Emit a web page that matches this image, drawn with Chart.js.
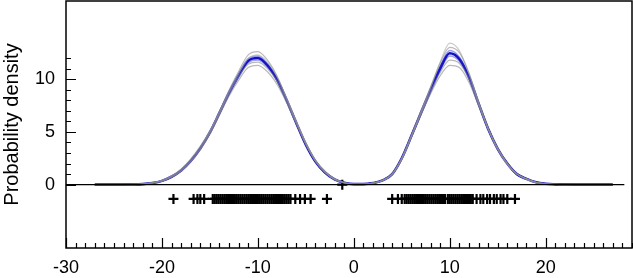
<!DOCTYPE html>
<html>
<head>
<meta charset="utf-8">
<script src="https://cdn.jsdelivr.net/npm/chart.js@4"></script>
<style>
  html, body { margin: 0; padding: 0; background: #fff; }
  #wrap { width: 633px; height: 278px; }
</style>
</head>
<body>
<div id="wrap"><canvas id="grafico"></canvas></div>
<script>
// Rejilla de x para las curvas de densidad
const xs = [-27, -26, -25, -24, -23, -22, -21, -20, -19, -18,
    -17, -16, -15, -14, -13, -12, -11, -10, -9, -8,
    -7, -6, -5, -4, -3, -2, -1, 0, 1, 2,
    3, 4, 5, 6, 7, 8, 9, 10, 11, 12,
    13, 14, 15, 16, 17, 18, 19, 20, 21, 22,
    23, 24, 25, 26, 27];

// Curva media (azul)
const densidadMedia = [0, 0, 0, 0, 0.01, 0.05, 0.15, 0.36, 0.75, 1.35,
    2.25, 3.45, 4.95, 6.8, 8.7, 10.35, 11.75, 12.0, 11.3, 9.95,
    8.0, 5.85, 3.8, 2.2, 1.15, 0.5, 0.18, 0.05, 0.05, 0.15,
    0.4, 1.0, 2.5, 4.6, 6.8, 8.95, 11.0, 12.45, 11.9, 10.2,
    7.7, 5.3, 3.4, 2.0, 1.0, 0.55, 0.22, 0.08, 0.03, 0.01,
    0, 0, 0, 0, 0];

// Remuestreos (gris)
const gris1 = [0, 0, 0, 0, 0.01, 0.06, 0.17, 0.4, 0.8, 1.42,
    2.35, 3.55, 5.05, 6.95, 8.95, 10.75, 12.3, 12.6, 11.8, 10.3,
    8.15, 5.95, 3.85, 2.25, 1.2, 0.5, 0.18, 0.05, 0.05, 0.15,
    0.4, 1.0, 2.5, 4.7, 7.0, 9.25, 11.5, 13.0, 12.5, 10.6,
    7.9, 5.4, 3.45, 2.0, 1.0, 0.55, 0.22, 0.08, 0.03, 0.01,
    0, 0, 0, 0, 0];
const gris2 = [0, 0, 0, 0, 0.01, 0.05, 0.14, 0.33, 0.7, 1.28,
    2.15, 3.3, 4.8, 6.6, 8.4, 9.9, 11.1, 11.3, 10.7, 9.5,
    7.75, 5.75, 3.8, 2.2, 1.15, 0.5, 0.18, 0.05, 0.05, 0.15,
    0.4, 1.0, 2.45, 4.5, 6.6, 8.6, 10.3, 11.3, 11.1, 9.7,
    7.5, 5.25, 3.4, 2.0, 1.0, 0.55, 0.22, 0.08, 0.03, 0.01,
    0, 0, 0, 0, 0];
const gris3 = [0, 0, 0, 0, 0.02, 0.07, 0.19, 0.42, 0.85, 1.5,
    2.45, 3.65, 5.1, 6.9, 8.8, 10.5, 11.95, 12.3, 11.6, 10.2,
    8.2, 6.05, 4.0, 2.35, 1.25, 0.55, 0.2, 0.06, 0.05, 0.14,
    0.38, 0.95, 2.4, 4.5, 6.85, 9.15, 11.6, 13.4, 12.7, 10.5,
    7.8, 5.3, 3.3, 1.9, 1.0, 0.5, 0.2, 0.08, 0.03, 0.01,
    0, 0, 0, 0, 0];
const gris4 = [0, 0, 0, 0, 0.01, 0.05, 0.14, 0.34, 0.72, 1.3,
    2.2, 3.4, 4.9, 6.7, 8.6, 10.2, 11.4, 11.6, 11.0, 9.8,
    7.95, 5.9, 3.9, 2.25, 1.2, 0.5, 0.18, 0.05, 0.05, 0.15,
    0.42, 1.05, 2.55, 4.65, 6.75, 8.8, 10.6, 11.8, 11.5, 10.0,
    7.65, 5.3, 3.45, 2.05, 1.05, 0.55, 0.22, 0.08, 0.03, 0.01,
    0, 0, 0, 0, 0];

// Remuestreos (azul claro)
const azul1 = [0, 0, 0, 0, 0.01, 0.05, 0.15, 0.37, 0.77, 1.38,
    2.3, 3.5, 5.0, 6.85, 8.8, 10.5, 11.95, 12.2, 11.45, 10.05,
    8.05, 5.9, 3.85, 2.2, 1.15, 0.5, 0.18, 0.05, 0.05, 0.15,
    0.4, 1.0, 2.5, 4.65, 6.9, 9.1, 11.2, 12.7, 12.1, 10.3,
    7.75, 5.3, 3.4, 2.0, 1.0, 0.55, 0.22, 0.08, 0.03, 0.01,
    0, 0, 0, 0, 0];
const azul2 = [0, 0, 0, 0, 0.01, 0.05, 0.15, 0.35, 0.73, 1.32,
    2.2, 3.4, 4.9, 6.75, 8.6, 10.2, 11.55, 11.8, 11.15, 9.85,
    7.95, 5.8, 3.8, 2.2, 1.15, 0.5, 0.18, 0.05, 0.05, 0.15,
    0.4, 1.0, 2.5, 4.55, 6.7, 8.8, 10.8, 12.2, 11.7, 10.1,
    7.65, 5.3, 3.4, 2.0, 1.0, 0.55, 0.22, 0.08, 0.03, 0.01,
    0, 0, 0, 0, 0];

// Observaciones (marcas +)
const observaciones = [-18.8, -16.7, -16.3, -16.0, -15.6,
    -14.7, -14.5, -14.3, -14.1, -13.9, -13.7, -13.5, -13.3, -13.1, -12.9,
    -12.8, -12.6, -12.4, -12.2, -12.0, -11.8, -11.6, -11.4, -11.2, -11.0,
    -10.8, -10.6, -10.4, -10.2, -10.0, -9.8, -9.6, -9.4, -9.2, -9.0,
    -8.8, -8.6, -8.4, -8.2, -8.0, -7.8, -7.6, -7.4, -7.2, -7.0,
    -6.8, -6.6, -6.1, -5.6, -5.1, -4.5, -2.8,
    4.0, 4.6, 5.0, 5.3, 5.5, 5.7, 5.9, 6.1, 6.3, 6.5,
    6.7, 6.9, 7.1, 7.3, 7.5, 7.7, 7.9, 8.1, 8.3, 8.5,
    8.7, 8.9, 9.1, 9.3, 9.5, 9.8, 10.0, 10.2, 10.4, 10.6,
    10.8, 11.0, 11.2, 11.4, 11.6, 11.8, 12.0, 12.2, 12.4, 12.8,
    13.2, 13.5, 13.9, 14.2, 14.6, 14.9, 15.3, 15.6, 16.0, 16.8];
const nivelObservaciones = -1.35;
const marcaSobreCero = [-1.2];

const lineaCero = [-30, 28.2];

const ticksX = [-30, -20, -10, 0, 10, 20];
const ticksY = [0, 5, 10];

const curva = (valores, color, ancho) => ({
    type: "line",
    data: xs.map((x, i) => ({ x: x, y: valores[i] })),
    borderColor: color,
    borderWidth: ancho,
    pointRadius: 0,
    fill: false,
    cubicInterpolationMode: "monotone"
});

// Marco completo y marcas hacia dentro
const marcoYMarcas = {
    id: "marcoYMarcas",
    afterDraw(chart) {
        const { ctx, chartArea: a, scales } = chart;
        const ejeX = scales.x;
        const ejeY = scales.y;

        ctx.save();
        ctx.strokeStyle = "#000";
        ctx.lineWidth = 1.5;
        ctx.strokeRect(a.left, a.top, a.right - a.left, a.bottom - a.top);

        ctx.lineWidth = 1.2;
        ctx.beginPath();
        for (let v = -30; v <= 29; v++) {
            const px = Math.round(ejeX.getPixelForValue(v)) + 0.5;
            const largo = v % 10 === 0 ? 10 : 5;
            ctx.moveTo(px, a.bottom);
            ctx.lineTo(px, a.bottom - largo);
        }
        for (let v = 0; v <= 12; v++) {
            const py = Math.round(ejeY.getPixelForValue(v)) + 0.5;
            const largo = v % 5 === 0 ? 10 : 5;
            ctx.moveTo(a.left, py);
            ctx.lineTo(a.left + largo, py);
        }
        ctx.stroke();
        ctx.restore();
    }
};

const fuenteTicks = { family: "'Liberation Sans', Arial, sans-serif", size: 18 };
const fuenteTitulo = { family: "'Liberation Sans', Arial, sans-serif", size: 20 };

const gris = "rgba(140, 140, 140, 0.6)";
const azulClaro = "rgba(40, 40, 210, 0.45)";

new Chart(document.getElementById("grafico"), {
    data: {
        datasets: [
            {
                type: "line",
                data: lineaCero.map(x => ({ x: x, y: 0 })),
                borderColor: "#000",
                borderWidth: 1.2,
                pointRadius: 0
            },
            curva(gris1, gris, 1.2),
            curva(gris2, gris, 1.2),
            curva(gris3, "rgba(170, 170, 170, 0.6)", 1.2),
            curva(gris4, gris, 1.2),
            curva(azul1, azulClaro, 1.5),
            curva(azul2, azulClaro, 1.5),
            curva(densidadMedia, "#1212c0", 2.6),
            {
                type: "scatter",
                data: observaciones.map(x => ({ x: x, y: nivelObservaciones }))
                    .concat(marcaSobreCero.map(x => ({ x: x, y: 0 }))),
                pointStyle: "cross",
                pointRadius: 5,
                borderColor: "#000",
                borderWidth: 2.2,
                backgroundColor: "#000"
            }
        ]
    },
    options: {
        responsive: true,
        maintainAspectRatio: false,
        animation: false,
        layout: {
            autoPadding: false,
            padding: { top: 1, right: 1, left: 0, bottom: 0 }
        },
        plugins: {
            legend: { display: false },
            tooltip: { enabled: false }
        },
        scales: {
            x: {
                type: "linear",
                min: -30,
                max: 29,
                grid: { display: false, drawTicks: false },
                border: { display: false },
                afterBuildTicks: scale => {
                    scale.ticks = ticksX.map(v => ({ value: v }));
                },
                afterFit: scale => {
                    scale.height = 30;
                    scale.paddingLeft = 0;
                    scale.paddingRight = 0;
                },
                ticks: {
                    color: "#000",
                    font: fuenteTicks,
                    padding: 9,
                    maxRotation: 0,
                    autoSkip: false
                }
            },
            y: {
                type: "linear",
                min: -6,
                max: 17.4,
                grid: { display: false, drawTicks: false },
                border: { display: false },
                afterBuildTicks: scale => {
                    scale.ticks = ticksY.map(v => ({ value: v }));
                },
                afterFit: scale => {
                    scale.width = 66;
                    scale.paddingTop = 0;
                    scale.paddingBottom = 0;
                },
                ticks: {
                    color: "#000",
                    font: fuenteTicks,
                    padding: 11,
                    autoSkip: false
                },
                title: {
                    display: true,
                    text: "Probability density",
                    color: "#000",
                    font: fuenteTitulo,
                    padding: { top: 0, bottom: 0 }
                }
            }
        }
    },
    plugins: [marcoYMarcas]
});
</script>
</body>
</html>
